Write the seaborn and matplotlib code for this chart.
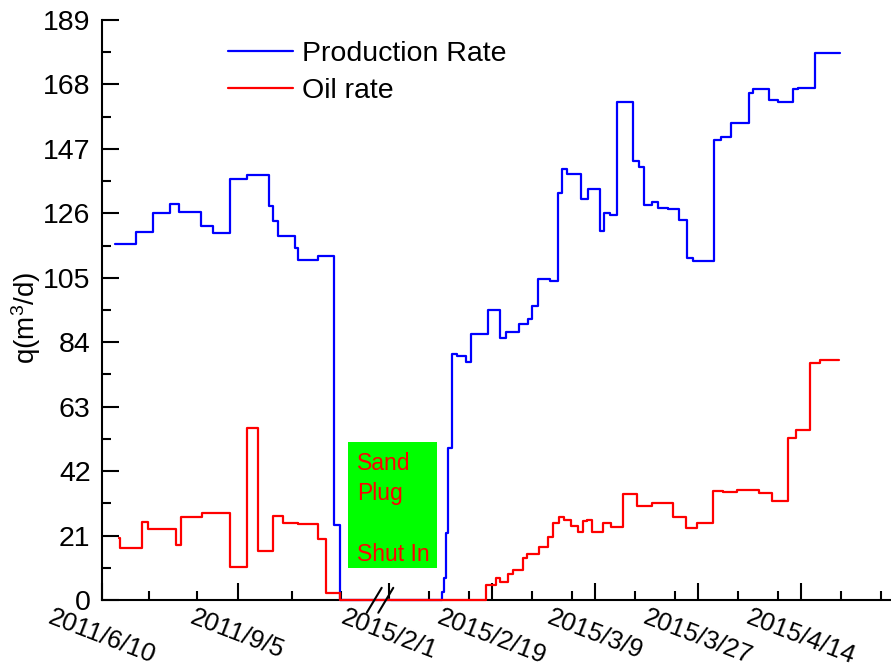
import numpy as np
import pandas as pd
import seaborn as sns
import matplotlib.pyplot as plt
from matplotlib.patches import Rectangle

# step start times: days since 2011/6/10 (before break) and days since 2015/2/1 (after break)
prod_t_2011 = [8.5, 22.0, 32.8, 43.7, 49.5, 63.5, 71.0, 81.9, 93.0, 107.2, 109.6,
               112.6, 123.7, 125.4, 138.4, 148.8, 152.5]
prod_q_2011 = [116.0, 120.0, 126.0, 129.0, 126.3, 122.0, 119.5, 137.2, 138.6, 128.4, 123.5,
               118.6, 114.8, 110.7, 112.2, 24.4, 0.0]
prod_t_2015 = [9.27, 9.67, 10.10, 10.45, 11.07, 11.99, 13.46, 14.34, 17.41, 19.46, 20.51,
               22.78, 24.41, 25.10, 26.15, 28.20, 29.65, 30.24, 31.12, 33.62, 34.90, 36.94,
               37.69, 38.69, 39.86, 42.66, 43.76, 44.69, 45.98, 47.03, 48.78, 50.80, 52.10,
               53.15, 56.92, 58.04, 59.84, 63.04, 63.74, 66.54, 68.01, 70.63, 71.50, 74.41,
               75.40, 78.78]
prod_q_2015 = [2.7, 7.1, 21.7, 49.4, 80.2, 79.6, 77.4, 86.8, 94.6, 85.4, 87.4,
               89.9, 91.5, 95.7, 104.5, 104.1, 132.5, 140.3, 138.8, 130.6, 133.8, 120.2,
               126.0, 125.6, 162.4, 143.1, 141.0, 128.7, 129.8, 127.6, 127.3, 123.8, 111.5,
               110.6, 149.9, 151.0, 155.5, 165.3, 166.4, 162.9, 162.4, 166.4, 166.9, 178.3,
               178.4, 178.4]

oil_t_2011 = [11.1, 12.0, 25.8, 29.4, 47.5, 50.9, 64.0, 81.9, 93.0, 100.0, 109.4,
              116.2, 125.4, 138.2, 143.7, 152.7]
oil_q_2011 = [20.3, 17.0, 25.5, 23.0, 17.9, 26.9, 28.2, 10.9, 56.0, 16.0, 27.4,
              25.2, 24.9, 20.0, 2.2, 0.0]
oil_t_2015 = [17.01, 18.71, 19.46, 20.91, 21.68, 23.53, 24.23, 26.33, 27.85, 28.78, 29.83,
              30.65, 31.82, 33.15, 33.92, 34.62, 35.59, 37.41, 38.81, 40.91, 43.46, 45.98,
              49.65, 51.92, 53.95, 56.75, 58.39, 60.84, 64.62, 66.96, 69.76, 71.21, 73.65,
              75.28, 78.67]
oil_q_2015 = [4.9, 7.1, 6.0, 8.6, 9.8, 13.8, 14.9, 17.4, 20.4, 25.2, 27.2,
              26.2, 24.2, 22.0, 25.7, 26.2, 22.2, 25.2, 23.7, 34.5, 30.5, 31.6,
              26.9, 23.5, 25.1, 35.6, 35.2, 35.8, 34.9, 32.4, 52.9, 55.5, 77.1,
              78.1, 78.1]

major_dates = ['2011/6/10', '2011/9/5', '2015/2/1', '2015/2/19', '2015/3/9', '2015/3/27', '2015/4/14']
minor_dates = ['2011/7/10', '2011/8/10', '2011/10/10', '2011/11/10',
               '2015/2/8', '2015/2/15', '2015/2/26', '2015/3/5', '2015/3/16', '2015/3/23',
               '2015/4/3', '2015/4/10', '2015/4/21', '2015/4/28']

start = pd.Timestamp('2011-06-10')
restart = pd.Timestamp('2015-02-01')
offset = (restart - start).days


def to_days(s):
    return (pd.Timestamp(s) - start).days


df = pd.concat([
    pd.DataFrame({'t': np.r_[prod_t_2011, np.array(prod_t_2015) + offset],
                  'q': np.r_[prod_q_2011, prod_q_2015], 'series': 'Production Rate'}),
    pd.DataFrame({'t': np.r_[oil_t_2011, np.array(oil_t_2015) + offset],
                  'q': np.r_[oil_q_2011, oil_q_2015], 'series': 'Oil rate'}),
])

# broken x axis: squeeze 2011/12 .. 2015/1 to nothing, stretch 2015 part
brk_lo = 178.0
brk_hi = offset - 1.35
gap = 0.6
stretch = 5.72 / 1.563
xp = np.array([-1e4, brk_lo, brk_hi, 1e4])
fp = np.array([-1e4, brk_lo, brk_lo + gap, brk_lo + gap + (1e4 - brk_hi) * stretch])


def forward(x):
    return np.interp(x, xp, fp)


def inverse(u):
    return np.interp(u, fp, xp)


sns.set_style('ticks')
plt.rcParams['font.family'] = ['Liberation Sans', 'DejaVu Sans']
plt.rcParams['mathtext.fontset'] = 'custom'
plt.rcParams['mathtext.rm'] = 'Liberation Sans'
plt.rcParams['mathtext.default'] = 'regular'
for k in ['text.color', 'axes.labelcolor', 'xtick.color', 'ytick.color', 'axes.edgecolor']:
    plt.rcParams[k] = 'black'

fig = plt.figure(figsize=(8.91, 6.68), dpi=100)
ax = fig.add_axes([0.1141, 0.1018, 0.8848, 0.8683])
ax.set_xscale('function', functions=(forward, inverse))

sns.lineplot(data=df, x='t', y='q', hue='series', hue_order=['Production Rate', 'Oil rate'],
             palette={'Production Rate': '#0000FF', 'Oil rate': '#FF0000'},
             estimator=None, sort=False, drawstyle='steps-post', linewidth=1.6,
             clip_on=False, zorder=4, ax=ax)

ax.set_xlim(0, offset + 87.6)
ax.set_ylim(0, 189)
ax.set_yticks(np.arange(0, 190, 21))
ax.set_yticks(np.arange(10.5, 189, 21), minor=True)
ax.set_xticks([to_days(d) for d in major_dates])
ax.set_xticklabels(major_dates, rotation=-21, ha='center')
ax.set_xticks([to_days(d) for d in minor_dates], minor=True)

for s in ['top', 'right']:
    ax.spines[s].set_visible(False)
for s in ['left', 'bottom']:
    ax.spines[s].set_linewidth(1.5)
    ax.spines[s].set_color('black')

ax.tick_params(which='major', direction='in', length=12, width=1.5, labelsize=20.5, pad=8)
ax.tick_params(axis='x', which='major', labelsize=18.5, pad=4)
ax.tick_params(which='minor', direction='in', length=6.5, width=1.5)

ax.set_xlabel('')
ax.set_ylabel('q(m$^3$/d)', fontsize=20)
ax.yaxis.set_label_coords(-0.0745, 0.487)

# axis-break marks
ax.plot([0.351, 0.365], [0, 0], transform=ax.transAxes, color='white', lw=2.5,
        clip_on=False, zorder=3)
for x0 in [0.3362, 0.3509]:
    ax.plot([x0, x0 + 0.019], [-0.022, 0.021], transform=ax.transAxes, color='black',
            lw=1.5, clip_on=False, zorder=5)

# green annotation box
ax.add_patch(Rectangle((0.3124, 0.0552), 0.1129, 0.2172, transform=ax.transAxes,
                       facecolor='#00FF00', edgecolor='none', zorder=2))
ax.text(0.3235, 0.256, 'Sand\nPlug\n\nShut In', transform=ax.transAxes, color='#FF0000',
        fontsize=16.5, va='top', ha='left', linespacing=1.42, zorder=3)

ax.legend_.remove()
handles, labels = ax.get_legend_handles_labels()
ax.legend(handles, labels, loc='upper left', bbox_to_anchor=(0.160, 0.963), frameon=False,
          fontsize=20.5, handlelength=2.3, handletextpad=0.32, labelspacing=0.37,
          borderpad=0, borderaxespad=0)

fig.savefig('out.png', dpi=100)
